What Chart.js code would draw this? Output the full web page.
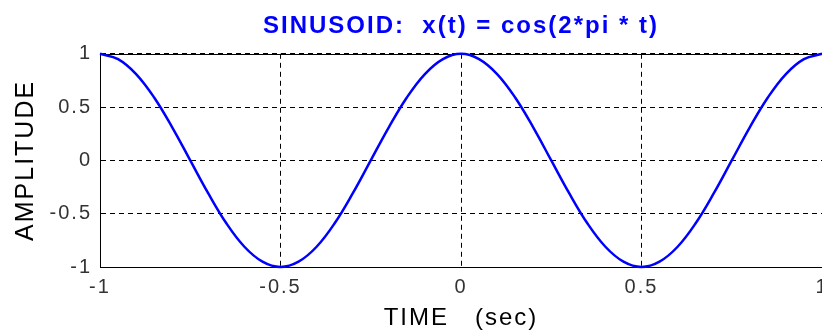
<!DOCTYPE html>
<html>
<head>
<meta charset="utf-8">
<script src="https://cdn.jsdelivr.net/npm/chart.js@4"></script>
<style>
  html, body { margin: 0; padding: 0; background: #fff; overflow: hidden; }
  #wrap { position: relative; width: 860px; height: 335px; }
</style>
</head>
<body>
<div id="wrap"><canvas id="sinusoidChart"></canvas></div>
<script>
// time samples (sec) and the amplitude read at each one
const timeSec = [
  -1, -0.95, -0.9, -0.85, -0.8, -0.75, -0.7, -0.65, -0.6, -0.55,
  -0.5, -0.45, -0.4, -0.35, -0.3, -0.25, -0.2, -0.15, -0.1, -0.05,
  0, 0.05, 0.1, 0.15, 0.2, 0.25, 0.3, 0.35, 0.4, 0.45,
  0.5, 0.55, 0.6, 0.65, 0.7, 0.75, 0.8, 0.85, 0.9, 0.95, 1,
];
const amplitude = [
  1, 0.95, 0.81, 0.59, 0.31, 0, -0.31, -0.59, -0.81, -0.95,
  -1, -0.95, -0.81, -0.59, -0.31, 0, 0.31, 0.59, 0.81, 0.95,
  1, 0.95, 0.81, 0.59, 0.31, 0, -0.31, -0.59, -0.81, -0.95,
  -1, -0.95, -0.81, -0.59, -0.31, 0, 0.31, 0.59, 0.81, 0.95, 1,
];
const xTicks = [-1, -0.5, 0, 0.5, 1];
const yTicks = [-1, -0.5, 0, 0.5, 1];

const titleText = "SINUSOID:  x(t) = cos(2*pi * t)";
const xTitle = "TIME   (sec)";
const yTitle = "AMPLITUDE";

const fontFamily = "'Liberation Sans', Arial, sans-serif";

// wide lettering, applied after every canvas reset
const wideText = {
  id: "wideText",
  beforeUpdate(chart) { chart.ctx.letterSpacing = "2px"; },
  beforeDraw(chart) { chart.ctx.letterSpacing = "2px"; },
};

// solid frame along the top of the plot box
const topFrame = {
  id: "topFrame",
  beforeDatasetsDraw(chart) {
    const { ctx, chartArea } = chart;
    ctx.save();
    ctx.strokeStyle = "#000";
    ctx.lineWidth = 1;
    ctx.beginPath();
    ctx.moveTo(chartArea.left, Math.round(chartArea.top) + 0.5);
    ctx.lineTo(chartArea.right, Math.round(chartArea.top) + 0.5);
    ctx.stroke();
    ctx.restore();
  },
};

const ctx = document.getElementById("sinusoidChart").getContext("2d");

new Chart(ctx, {
  type: "line",
  data: {
    datasets: [
      {
        data: timeSec.map((t, i) => ({ x: t, y: amplitude[i] })),
        borderColor: "#0000ff",
        borderWidth: 2.5,
        pointRadius: 0,
        tension: 0.4,
        clip: 4,
      },
    ],
  },
  options: {
    responsive: true,
    maintainAspectRatio: false,
    devicePixelRatio: 1,
    animation: false,
    layout: { padding: { left: 0, right: 38, top: 0, bottom: 0 } },
    plugins: {
      legend: { display: false },
      tooltip: { enabled: false },
      title: {
        display: true,
        fullSize: false,
        text: titleText,
        color: "#0000ff",
        font: { family: fontFamily, size: 24, weight: "bold" },
        padding: { top: 12, bottom: 13 },
      },
    },
    scales: {
      x: {
        type: "linear",
        min: -1,
        max: 1,
        afterBuildTicks: (s) => { s.ticks = xTicks.map((v) => ({ value: v })); },
        afterFit: (s) => { s.height = 68; },
        grid: { color: "#000", lineWidth: 1, drawTicks: false },
        border: { display: true, color: "#000", width: 1, dash: [5, 4] },
        ticks: {
          color: "#333",
          padding: 8,
          maxRotation: 0,
          callback: (v) => String(v),
          font: { family: fontFamily, size: 20 },
        },
        title: {
          display: true,
          text: xTitle,
          color: "#000",
          font: { family: fontFamily, size: 24 },
          padding: { top: 0, bottom: 2 },
        },
      },
      y: {
        type: "linear",
        min: -1,
        max: 1,
        afterBuildTicks: (s) => { s.ticks = yTicks.map((v) => ({ value: v })); },
        afterFit: (s) => { s.width = 100; },
        grid: { color: "#000", lineWidth: 1, drawTicks: false },
        border: { display: true, color: "#000", width: 1, dash: [5, 4] },
        ticks: {
          color: "#333",
          padding: 8,
          callback: (v) => String(v),
          font: { family: fontFamily, size: 20 },
        },
        title: {
          display: true,
          text: yTitle,
          color: "#000",
          font: { family: fontFamily, size: 25 },
          padding: { top: 11, bottom: 0 },
        },
      },
    },
  },
  plugins: [wideText, topFrame],
});
</script>
</body>
</html>
